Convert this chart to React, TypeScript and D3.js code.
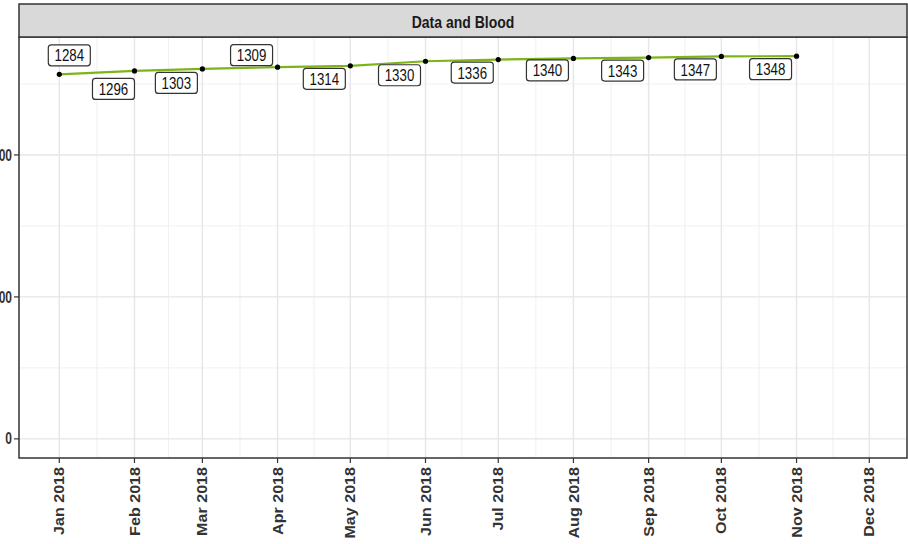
import React from "react";
import * as d3 from "d3";

const months = ["2018-01-01","2018-02-01","2018-03-01","2018-04-01","2018-05-01","2018-06-01","2018-07-01","2018-08-01","2018-09-01","2018-10-01","2018-11-01"];
const values = [1284, 1296, 1303, 1309, 1314, 1330, 1336, 1340, 1343, 1347, 1348];
const yTicks = [0, 500, 1000];
const yMinor = [250, 750, 1250];
const xTickDates = ["2018-01-01","2018-02-01","2018-03-01","2018-04-01","2018-05-01","2018-06-01","2018-07-01","2018-08-01","2018-09-01","2018-10-01","2018-11-01","2018-12-01"];
const title = "Data and Blood";
// repel label nudges (pixels) relative to each point
const labelDx = [10, -21, -26, -26, -26, -26, -26, -26, -26, -26, -26];
const labelDy = [-19, 18, 14, -12, 13, 14, 13, 12, 13, 13, 13];

const parse = d3.utcParse("%Y-%m-%d");
const fmt = d3.utcFormat("%b %Y");

export default function App() {
  const W = 908, H = 544;
  const left = 19, right = 907, top = 37, bottom = 458, stripTop = 4;
  const x = d3.scaleUtc().domain([parse("2018-01-01")!, parse("2018-12-01")!]).range([59.3, 869.3]);
  const y = d3.scaleLinear().domain([-67.4, 1415.4]).range([bottom, top]);
  const data = months.map((m, i) => ({ d: parse(m)!, v: values[i] }));
  const line = d3.line<{ d: Date; v: number }>().x(p => x(p.d)).y(p => y(p.v));
  const majorX = xTickDates.map(s => parse(s)!);
  const minorX: Date[] = [];
  for (let i = 0; i < majorX.length - 1; i++) {
    minorX.push(new Date((majorX[i].getTime() + majorX[i + 1].getTime()) / 2));
  }
  const font = "'Liberation Sans', Arial, sans-serif";
  return (
    <svg width={W} height={H} style={{ position: "absolute", left: 0, top: 0, background: "#fff" }} fontFamily={font}>
      <rect x={0} y={0} width={W} height={H} fill="#fff" />
      {/* gridlines */}
      {yMinor.map(t => <line key={"ym" + t} x1={left} x2={right} y1={y(t)} y2={y(t)} stroke="#f0f0f0" strokeWidth={1} />)}
      {minorX.map((d, i) => <line key={"xm" + i} x1={x(d)} x2={x(d)} y1={top} y2={bottom} stroke="#f0f0f0" strokeWidth={1} />)}
      {yTicks.map(t => <line key={"yg" + t} x1={left} x2={right} y1={y(t)} y2={y(t)} stroke="#e6e6e6" strokeWidth={1.4} />)}
      {majorX.map((d, i) => <line key={"xg" + i} x1={x(d)} x2={x(d)} y1={top} y2={bottom} stroke="#e6e6e6" strokeWidth={1.4} />)}
      {/* line + points */}
      <path d={line(data)!} fill="none" stroke="#7cb518" strokeWidth={2.2} />
      {data.map((p, i) => <circle key={"pt" + i} cx={x(p.d)} cy={y(p.v)} r={2.6} fill="#000" />)}
      {/* labels */}
      {data.map((p, i) => {
        const cx = x(p.d) + labelDx[i];
        const cy = y(p.v) + labelDy[i];
        return (
          <g key={"lb" + i}>
            <rect x={cx - 21} y={cy - 10.5} width={42} height={21} rx={3} fill="#fff" stroke="#333" strokeWidth={1.2} />
            <text x={cx} y={cy} textAnchor="middle" dominantBaseline="central" fontSize={14} fill="#111"
              transform={`translate(${cx},${cy}) scale(0.95,1.2) translate(${-cx},${-cy})`}>{p.v}</text>
          </g>
        );
      })}
      {/* panel border */}
      <rect x={left} y={top} width={right - left} height={bottom - top} fill="none" stroke="#333" strokeWidth={1.5} />
      {/* strip */}
      <rect x={left} y={stripTop} width={right - left} height={top - stripTop} fill="#d9d9d9" stroke="#333" strokeWidth={1.5} />
      <text x={(left + right) / 2} y={(stripTop + top) / 2 + 1} textAnchor="middle" dominantBaseline="central" fontSize={14} fontWeight="bold" fill="#1a1a1a"
        transform={`translate(${(left + right) / 2},${(stripTop + top) / 2}) scale(1,1.15) translate(${-(left + right) / 2},${-(stripTop + top) / 2})`}>{title}</text>
      {/* y axis */}
      {yTicks.map(t => (
        <g key={"yt" + t}>
          <line x1={left - 5} x2={left} y1={y(t)} y2={y(t)} stroke="#333" strokeWidth={1.2} />
          <text x={left - 7} y={y(t)} textAnchor="end" dominantBaseline="central" fontSize={12} fontWeight="bold" fill="#333"
            transform={`translate(0,${y(t)}) scale(1,1.3) translate(0,${-y(t)})`}>{t}</text>
        </g>
      ))}
      {/* x axis */}
      {majorX.map((d, i) => {
        const tx = x(d);
        const ty = bottom + 9;
        return (
          <g key={"xt" + i}>
            <line x1={tx} x2={tx} y1={bottom} y2={bottom + 5} stroke="#333" strokeWidth={1.2} />
            <text x={0} y={0} textAnchor="end" dominantBaseline="central" fontSize={14} fontWeight="bold" fill="#333"
              transform={`translate(${tx},${ty}) rotate(-90) scale(1.15,1)`}>{fmt(d)}</text>
          </g>
        );
      })}
    </svg>
  );
}
